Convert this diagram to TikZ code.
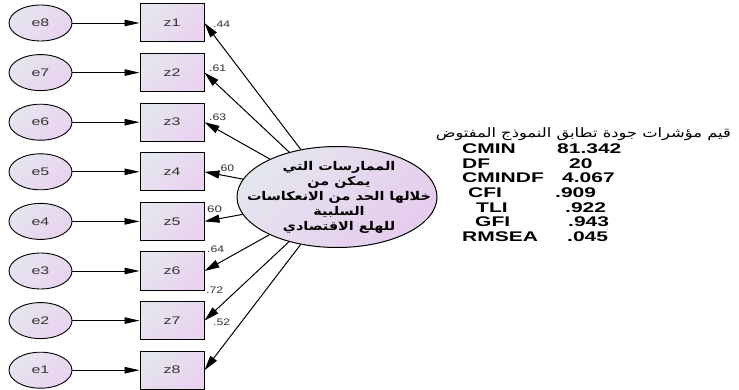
\documentclass[tikz,border=0pt]{standalone}
\usepackage{fontspec}
\usepackage{graphicx}
\setmainfont{Liberation Sans}
\newfontfamily\arabicfont[Script=Arabic]{DejaVu Sans}
\TeXXeTstate=1
\usetikzlibrary{shapes.geometric,arrows.meta}
\definecolor{ga}{HTML}{E4E6EE}
\definecolor{gb}{HTML}{EAD2F0}
\definecolor{gc}{HTML}{E6CCEE}
\definecolor{txt}{HTML}{333333}
\newcommand{\stw}[2]{\resizebox{#1}{\height}{#2}}
\newcommand{\sxx}[1]{\scalebox{1.45}[1]{#1}}
\newcommand{\sxt}[1]{\scalebox{1.5}[1]{#1}}
\begin{document}
\begin{tikzpicture}[x=1pt,y=-1pt,
  errnode/.style={ellipse, draw, line width=0.9pt, minimum width=63pt, minimum height=36pt, inner sep=0pt,
    top color=ga, bottom color=gb, shading angle=45, text=txt, font=\fontsize{11}{11}\selectfont},
  obsbox/.style={rectangle, draw, line width=1pt, minimum width=64pt, minimum height=38pt, inner sep=0pt,
    top color=ga, bottom color=gb, shading angle=45, text=txt, font=\fontsize{11}{11}\selectfont},
  latent/.style={ellipse, draw, line width=1pt, minimum width=200pt, minimum height=101pt, inner sep=0pt,
    top color=ga, bottom color=gc, shading angle=45},
  arr/.style={-{Triangle[length=15pt,width=6.5pt]}, line width=0.9pt},
  arrL/.style={-{Triangle[length=15pt,width=8pt]}, line width=1pt},
  wt/.style={font=\fontsize{9.5}{9.5}\selectfont, anchor=west, inner sep=0pt, text=txt},
  fitk/.style={font=\fontsize{14}{14}\selectfont\bfseries, anchor=west, inner sep=0pt}
]
\useasboundingbox (0,0) rectangle (739,390);
\fill[white] (0,0) rectangle (739,390);

\foreach \i in {1,...,8}{
  \pgfmathsetmacro\yy{23+49.6*(\i-1)}
  \pgfmathtruncatemacro\j{9-\i}
  \node[errnode] (e\j) at (40.5,\yy) {\sxx{e\j}};
  \node[obsbox] (z\i) at (172,\yy) {\sxx{z\i}};
  \draw[arr] (e\j.east) -- (z\i.west);
}

\node[latent] (L) at (337,197) {};
\node[inner sep=0pt] (Lt) at (339,198)
  {\stw{184pt}{\arabicfont\bfseries\fontsize{12}{15}\selectfont\begin{tabular}{@{}c@{}}\beginR الممارسات التي\endR\\ \beginR يمكن من\endR\\ \beginR خلالها الحد من الانعكاسات\endR\\ \beginR السلبية\endR\\ \beginR للهلع الاقتصادي\endR\end{tabular}}};

\foreach \i in {1,...,8}{
  \draw[arrL] (L) -- (z\i.east);
}

\node[wt] (w1) at (213,24) {\stw{17pt}{.44}};
\node[wt] (w2) at (209,68) {\stw{17pt}{.61}};
\node[wt] (w3) at (209,117) {\stw{17pt}{.63}};
\node[wt] (w4) at (217,168) {\stw{17pt}{.60}};
\node[wt] (w5) at (207,209) {\stw{15pt}{60}};
\node[wt] (w6) at (207,249) {\stw{17pt}{.64}};
\node[wt] (w7) at (206,290) {\stw{17pt}{.72}};
\node[wt] (w8) at (213,322) {\stw{17pt}{.52}};

\node[anchor=east, inner sep=0pt, font=\arabicfont\fontsize{13}{13}\selectfont] (title) at (731,134)
  {\stw{295pt}{\beginR قيم مؤشرات جودة تطابق النموذج المفتوض\endR}};

\node[fitk] (k1) at (462,148.5) {\sxt{CMIN}};   \node[fitk] (v1) at (557,148.5) {\sxt{81.342}};
\node[fitk] (k2) at (462,163.5) {\sxt{DF}};     \node[fitk] (v2) at (569,163.5) {\sxt{20}};
\node[fitk] (k3) at (462,178)   {\sxt{CMINDF}}; \node[fitk] (v3) at (562,178)   {\sxt{4.067}};
\node[fitk] (k4) at (468,192.5) {\sxt{CFI}};    \node[fitk] (v4) at (555,192.5) {\sxt{.909}};
\node[fitk] (k5) at (476,207.5) {\sxt{TLI}};    \node[fitk] (v5) at (565,207.5) {\sxt{.922}};
\node[fitk] (k6) at (475,222)   {\sxt{GFI}};    \node[fitk] (v6) at (568,222)   {\sxt{.943}};
\node[fitk] (k7) at (462,236.5) {\sxt{RMSEA}};  \node[fitk] (v7) at (567,236.5) {\sxt{.045}};
\end{tikzpicture}
\end{document}
